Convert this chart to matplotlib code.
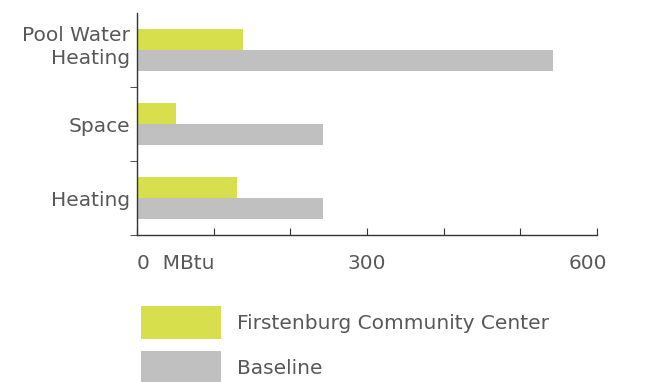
import numpy as np
import matplotlib
matplotlib.use("Agg")
import matplotlib.pyplot as plt
import matplotlib.transforms as mtransforms

categories = ["Pool Water\nHeating", "Space", "Heating"]
firstenburg = [138, 51, 130]
baseline = [542, 243, 243]
series_names = ["Firstenburg Community Center", "Baseline"]
x_tick_values = [0, 100, 200, 300, 400, 500, 600]
x_tick_labels = ["0  MBtu", "", "", "300", "", "", "600"]

green = "#d7df4c"
grey = "#c0c0c0"
text_col = "#585858"

plt.rcParams["font.family"] = ["DejaVu Sans"]

fig = plt.figure(figsize=(6.55, 3.82), dpi=100)
ax = fig.add_axes([137 / 655, 1 - 235 / 382, 460 / 655, 222 / 382])

y = np.arange(len(categories))
h = 0.28
ax.barh(y - h / 2, firstenburg, height=h, color=green, label=series_names[0])
ax.barh(y + h / 2, baseline, height=h, color=grey, label=series_names[1])

ax.set_xlim(0, 600)
ax.set_ylim(2.5, -0.5)

ax.set_yticks(y)
ax.set_yticklabels(categories, fontsize=14.5, color=text_col, linespacing=1.3)
ax.tick_params(axis="y", which="major", length=0, pad=5)
ax.set_yticks([0.5, 1.5, 2.5], minor=True)
ax.tick_params(axis="y", which="minor", length=5, direction="out", color="#333333")
# two-line label sits a bit above its bars
ylab = ax.get_yticklabels()[0]
ylab.set_transform(ylab.get_transform() +
                   mtransforms.ScaledTranslation(0, 7 / 100, fig.dpi_scale_trans))

ax.set_xticks(x_tick_values)
ax.set_xticklabels(x_tick_labels, fontsize=14.5, color=text_col)
ax.tick_params(axis="x", length=5, direction="in", pad=14, color="#333333")
labels = ax.get_xticklabels()
labels[0].set_horizontalalignment("left")
labels[-1].set_transform(labels[-1].get_transform() +
                         mtransforms.ScaledTranslation(-9 / 100, 0, fig.dpi_scale_trans))

for s in ["top", "right"]:
    ax.spines[s].set_visible(False)
for s in ["left", "bottom"]:
    ax.spines[s].set_color("#333333")
    ax.spines[s].set_linewidth(1.0)

leg = fig.legend(loc="upper left", bbox_to_anchor=(141 / 655, 1 - 306 / 382),
                 frameon=False, fontsize=14.5, handlelength=3.95, handleheight=2.15,
                 labelspacing=0.6, handletextpad=0.8, borderpad=0, borderaxespad=0)
for t in leg.get_texts():
    t.set_color(text_col)

fig.savefig("out.png", dpi=100)
